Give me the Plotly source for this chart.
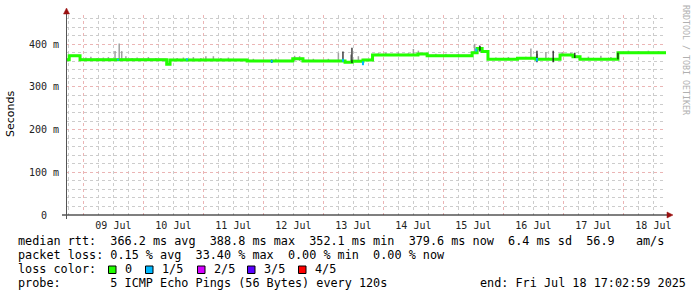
import plotly.graph_objects as go

# ---------------- data ----------------
x_start = "2025-07-08 17:02:59"
x_end = "2025-07-18 17:02:59"

# median rtt (seconds), step changes
med_t = ["2025-07-08 17:03", "2025-07-08 18:20", "2025-07-08 22:40", "2025-07-10 09:20",
         "2025-07-10 10:40", "2025-07-11 17:30", "2025-07-12 11:45", "2025-07-12 15:50",
         "2025-07-13 08:40", "2025-07-13 11:30", "2025-07-13 15:50", "2025-07-13 19:40",
         "2025-07-14 13:50", "2025-07-14 17:30", "2025-07-15 11:30", "2025-07-15 13:30",
         "2025-07-15 15:30", "2025-07-15 17:50", "2025-07-16 05:40", "2025-07-16 13:00",
         "2025-07-16 22:40", "2025-07-17 03:50", "2025-07-17 06:40", "2025-07-17 21:50",
         "2025-07-18 17:03"]
med_v = [0.364, 0.373, 0.364, 0.353, 0.363, 0.361, 0.366, 0.361, 0.358, 0.360, 0.363,
         0.375, 0.377, 0.373, 0.380, 0.390, 0.383, 0.365, 0.367, 0.365, 0.375, 0.371,
         0.365, 0.380, 0.380]
# upper edge of the light smoke band
smoke_top = [0.367, 0.376, 0.367, 0.356, 0.366, 0.364, 0.369, 0.364, 0.361, 0.364, 0.366,
             0.378, 0.380, 0.376, 0.383, 0.393, 0.386, 0.368, 0.370, 0.368, 0.378, 0.374,
             0.368, 0.383, 0.383]

# smoke spikes: time, low, high (seconds)
spike_t = ["2025-07-09 01:00", "2025-07-09 03:00", "2025-07-09 05:30", "2025-07-09 08:00",
           "2025-07-09 10:00", "2025-07-09 12:40", "2025-07-09 14:20", "2025-07-09 15:20",
           "2025-07-09 17:00", "2025-07-09 19:30", "2025-07-09 21:30", "2025-07-10 02:00",
           "2025-07-10 05:00", "2025-07-10 13:30", "2025-07-10 16:00", "2025-07-10 20:00",
           "2025-07-10 23:00", "2025-07-11 01:00", "2025-07-11 04:00", "2025-07-11 07:00",
           "2025-07-11 10:00", "2025-07-11 20:00", "2025-07-12 05:00", "2025-07-12 12:30",
           "2025-07-12 14:30", "2025-07-12 20:00", "2025-07-13 02:00", "2025-07-13 06:00",
           "2025-07-13 11:00", "2025-07-13 14:00", "2025-07-13 22:00", "2025-07-14 01:00",
           "2025-07-14 06:00", "2025-07-14 10:00", "2025-07-14 12:00", "2025-07-14 14:00",
           "2025-07-14 21:00", "2025-07-15 01:00", "2025-07-15 06:00", "2025-07-15 12:30",
           "2025-07-15 14:30", "2025-07-15 21:00", "2025-07-16 02:00", "2025-07-16 09:00",
           "2025-07-16 11:00", "2025-07-16 13:30", "2025-07-16 17:00", "2025-07-16 23:30",
           "2025-07-17 03:00", "2025-07-17 10:00", "2025-07-17 15:00", "2025-07-17 19:00",
           "2025-07-18 02:00", "2025-07-18 06:00", "2025-07-18 10:00", "2025-07-18 14:00"]
spike_lo = [0.364, 0.364, 0.364, 0.364, 0.364, 0.364, 0.364, 0.364, 0.364, 0.364, 0.364,
            0.364, 0.364, 0.363, 0.363, 0.363, 0.363, 0.363, 0.363, 0.363, 0.363, 0.361,
            0.361, 0.361, 0.361, 0.361, 0.361, 0.358, 0.358, 0.360, 0.375, 0.375, 0.375,
            0.375, 0.375, 0.375, 0.373, 0.373, 0.373, 0.380, 0.383, 0.365, 0.365, 0.367,
            0.365, 0.365, 0.365, 0.375, 0.372, 0.365, 0.365, 0.365, 0.380, 0.380, 0.380,
            0.380]
spike_hi = [0.369, 0.371, 0.368, 0.369, 0.370, 0.384, 0.402, 0.384, 0.372, 0.368, 0.369,
            0.370, 0.368, 0.368, 0.369, 0.370, 0.368, 0.372, 0.372, 0.368, 0.369, 0.366,
            0.366, 0.373, 0.372, 0.366, 0.366, 0.380, 0.376, 0.372, 0.379, 0.380, 0.381,
            0.379, 0.389, 0.385, 0.378, 0.378, 0.377, 0.401, 0.398, 0.369, 0.370, 0.371,
            0.390, 0.378, 0.382, 0.382, 0.380, 0.371, 0.373, 0.370, 0.385, 0.384, 0.385,
            0.384]

# dark spikes
dark_t = ["2025-07-12 03:20", "2025-07-13 07:50", "2025-07-13 11:26", "2025-07-15 14:38",
          "2025-07-16 13:26", "2025-07-16 19:55", "2025-07-17 04:35", "2025-07-17 21:50"]
dark_lo = [0.357, 0.360, 0.356, 0.383, 0.358, 0.358, 0.368, 0.365]
dark_hi = [0.364, 0.383, 0.392, 0.396, 0.385, 0.385, 0.380, 0.380]

# loss 1/5 marks
loss_t = ["2025-07-09 13:50", "2025-07-10 17:25", "2025-07-12 03:20", "2025-07-13 07:50",
          "2025-07-13 15:50", "2025-07-15 13:10", "2025-07-16 13:26"]
loss_lo = [0.362, 0.362, 0.357, 0.359, 0.351, 0.383, 0.360]
loss_hi = [0.366, 0.367, 0.363, 0.366, 0.360, 0.390, 0.368]

y_tick_vals = [0, 0.1, 0.2, 0.3, 0.4]
y_tick_text = ["0\u00a0\u00a0", "100 m", "200 m", "300 m", "400 m"]

legend_labels = ["0", "1/5", "2/5", "3/5", "4/5"]
legend_colors = ["#22ff00", "#00b8ff", "#d400ff", "#5a00ff", "#ff0000"]

line1 = "median rtt:  366.2 ms avg  388.8 ms max  352.1 ms min  379.6 ms now  6.4 ms sd  56.9   am/s"
line2 = "packet loss: 0.15 % avg  33.40 % max  0.00 % min  0.00 % now"
line3 = "loss color:"
line4 = "probe:       5 ICMP Echo Pings (56 Bytes) every 120s"
line4r = "end: Fri Jul 18 17:02:59 2025"

# ---------------- layout helpers ----------------
W, H = 697, 297
L, R, T, B = 66, 666, 15, 215


def px(x):
    return (x - L) / (R - L)


def py(y):
    return (B - y) / (B - T)


def nb(s):
    return s.replace(" ", "\u00a0")


def segs(ts, lo, hi):
    xs, ys = [], []
    for t, a, b in zip(ts, lo, hi):
        xs += [t, t, None]
        ys += [a, b, None]
    return xs, ys


MONO = "DejaVu Sans Mono"

fig = go.Figure()
fig.add_trace(go.Scatter(x=med_t, y=med_v, mode="lines", line=dict(width=0, shape="hv"),
                         showlegend=False, hoverinfo="skip"))
fig.add_trace(go.Scatter(x=med_t, y=smoke_top, mode="lines", fill="tonexty",
                         fillcolor="#c4c4c4", line=dict(width=0, shape="hv"),
                         showlegend=False, hoverinfo="skip"))
sx, sy = segs(spike_t, spike_lo, spike_hi)
fig.add_trace(go.Scatter(x=sx, y=sy, mode="lines", line=dict(width=1.5, color="#a0a0a0"),
                         showlegend=False, hoverinfo="skip"))
fig.add_trace(go.Scatter(x=med_t, y=med_v, mode="lines",
                         line=dict(width=3, color="#22ff00", shape="hv"),
                         showlegend=False, hoverinfo="skip"))
dx, dy = segs(dark_t, dark_lo, dark_hi)
fig.add_trace(go.Scatter(x=dx, y=dy, mode="lines", line=dict(width=1.2, color="#111111"),
                         showlegend=False, hoverinfo="skip"))
lx, ly = segs(loss_t, loss_lo, loss_hi)
fig.add_trace(go.Scatter(x=lx, y=ly, mode="lines", line=dict(width=2, color="#00b8ff"),
                         showlegend=False, hoverinfo="skip"))

shapes = []
# axis lines
shapes.append(dict(type="line", xref="paper", yref="paper", x0=px(62), x1=px(668),
                   y0=0, y1=0, line=dict(color="#000000", width=1.2)))
shapes.append(dict(type="line", xref="paper", yref="paper", x0=px(66.5), x1=px(66.5),
                   y0=py(219), y1=py(12), line=dict(color="#555555", width=1)))
# arrow heads
shapes.append(dict(type="path", xref="paper", yref="paper",
                   path=f"M {px(667)} {py(212)} L {px(673)} {py(215)} L {px(667)} {py(218)} Z",
                   fillcolor="#9a1010", line=dict(color="#9a1010", width=0.5)))
shapes.append(dict(type="path", xref="paper", yref="paper",
                   path=f"M {px(63.5)} {py(14)} L {px(66.5)} {py(8)} L {px(69.5)} {py(14)} Z",
                   fillcolor="#9a1010", line=dict(color="#9a1010", width=0.5)))

annotations = []
annotations.append(dict(text="Seconds", x=px(10), y=py(114), xref="paper", yref="paper",
                        textangle=-90, showarrow=False, xanchor="center", yanchor="middle",
                        font=dict(family="DejaVu Sans", size=11, color="#000000")))
annotations.append(dict(text=nb("RRDTOOL / TOBI OETIKER"), x=px(686), y=py(60),
                        xref="paper", yref="paper", textangle=90, showarrow=False,
                        xanchor="center", yanchor="middle",
                        font=dict(family=MONO, size=8.3, color="#b0b0b0")))
for txt, yy in [(line1, 241), (line2, 255), (line3, 269), (line4, 283)]:
    annotations.append(dict(text=nb(txt), x=px(16), y=py(yy), xref="paper", yref="paper",
                            showarrow=False, xanchor="left", yanchor="middle",
                            font=dict(family=MONO, size=11.8, color="#000000")))
annotations.append(dict(text=nb(line4r), x=px(478), y=py(283), xref="paper", yref="paper",
                        showarrow=False, xanchor="left", yanchor="middle",
                        font=dict(family=MONO, size=11.8, color="#000000")))
label_x = [123, 160, 212, 262, 313]
for lab, col, lxp in zip(legend_labels, legend_colors, label_x):
    bx = lxp - 14.5
    shapes.append(dict(type="rect", xref="paper", yref="paper", x0=px(bx), x1=px(bx + 7.5),
                       y0=py(273.5), y1=py(266), fillcolor=col,
                       line=dict(color="#000000", width=1)))
    annotations.append(dict(text=nb(lab), x=px(lxp), y=py(269), xref="paper", yref="paper",
                            showarrow=False, xanchor="left", yanchor="middle",
                            font=dict(family=MONO, size=11.8, color="#000000")))

fig.update_layout(
    width=W, height=H, autosize=False,
    margin=dict(l=L, r=W - R, t=T, b=H - B, pad=0),
    paper_bgcolor="#ffffff", plot_bgcolor="#ffffff",
    showlegend=False, shapes=shapes, annotations=annotations,
    xaxis=dict(type="date", range=[x_start, x_end], showline=False, zeroline=False,
               tick0="2025-07-09", dtick=86400000, tickformat="%d %b",
               ticklabelmode="period", ticks="", ticklabelstandoff=3,
               tickfont=dict(family=MONO, size=10, color="#222222"),
               showgrid=True, gridcolor="#ebb5b5", griddash="dot", gridwidth=1,
               minor=dict(dtick=6 * 3600000, tick0="2025-07-09", showgrid=True,
                          gridcolor="#cccccc", griddash="dot", gridwidth=1)),
    yaxis=dict(range=[0, 0.4686], showline=False, zeroline=False,
               tickmode="array", tickvals=y_tick_vals, ticktext=y_tick_text,
               ticks="", ticklabelstandoff=6,
               tickfont=dict(family=MONO, size=10, color="#222222"),
               showgrid=True, gridcolor="#ebb5b5", griddash="dot", gridwidth=1,
               minor=dict(tickmode="linear", tick0=0, dtick=0.02, showgrid=True,
                          gridcolor="#cccccc", griddash="dot", gridwidth=1)),
)

fig.write_html("out.html")
